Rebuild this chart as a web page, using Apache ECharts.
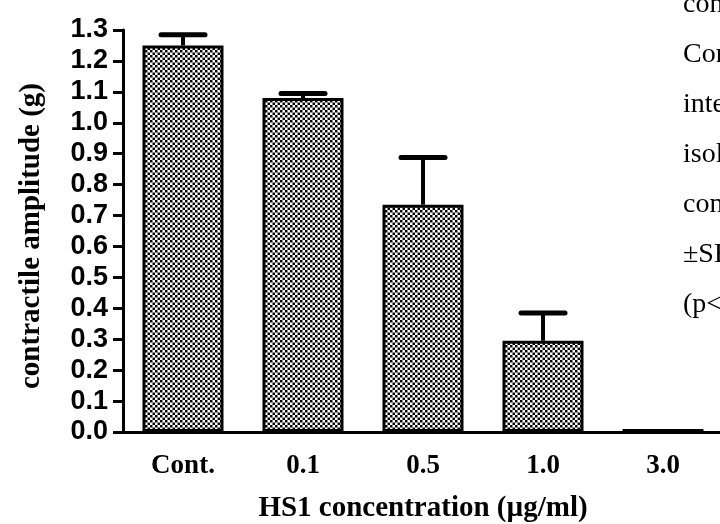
<!DOCTYPE html>
<html><head><meta charset="utf-8">
<script src="https://cdn.jsdelivr.net/npm/echarts@6/dist/echarts.min.js"></script>
<style>html,body{margin:0;padding:0;background:#fff}#c{width:720px;height:524px}</style>
</head><body><div id="c"></div>
<script>
// ---- data ----
const categories = ['Cont.', '0.1', '0.5', '1.0', '3.0'];
const meanValues = [1.25, 1.08, 0.735, 0.295, 0.01];
const semValues = [0.035, 0.015, 0.153, 0.09, 0];
const yMin = 0, yMax = 1.3, yStep = 0.1;
const xTitle = 'HS1 concentration (µg/ml)';
const yTitle = 'contractile amplitude (g)';
const sideText = ['con', 'Con', 'inte', 'isol', 'con', '±SE', '(p<'];

// ---- pattern ----
const tile = document.createElement('canvas');
tile.width = 5; tile.height = 5;
const tc = tile.getContext('2d');
tc.fillStyle = '#8c8c8c'; tc.fillRect(0, 0, 5, 5);
tc.fillStyle = '#000'; tc.fillRect(0, 0, 2, 2); tc.fillRect(3, 3, 2, 2);
tc.fillStyle = '#fff'; tc.fillRect(3, 0, 2, 2); tc.fillRect(0, 3, 2, 2);

const chart = echarts.init(document.getElementById('c'), null, {renderer: 'canvas'});
const serif = 'Liberation Serif';
const errData = categories.map((c, i) => [i, meanValues[i], semValues[i]]);

const graphics = sideText.map((t, i) => ({
  type: 'text', z: 10,
  style: {x: 683, y: 5 + i * 50, text: t, fill: '#000',
    font: '28px "Liberation Serif"', verticalAlign: 'middle', align: 'left'}
}));
graphics.push({
  type: 'text', z: 10, rotation: Math.PI / 2,
  style: {x: 0, y: 0, text: yTitle, fill: '#000',
    font: 'bold 29px "Liberation Serif"', align: 'center', verticalAlign: 'middle'},
  x: 32, y: 236
});

chart.setOption({
  animation: false,
  backgroundColor: '#fff',
  grid: {left: 123, top: 30, width: 600, height: 402, containLabel: false, outerBoundsMode: 'none'},
  xAxis: {
    type: 'category', data: categories,
    axisLine: {lineStyle: {color: '#000', width: 3}},
    axisTick: {alignWithLabel: true, length: 9, lineStyle: {color: '#000', width: 3}},
    axisLabel: {margin: 21, color: '#000', fontFamily: serif, fontWeight: 'bold', fontSize: 27},
    name: xTitle, nameLocation: 'middle', nameGap: 62,
    nameTextStyle: {color: '#000', fontFamily: serif, fontWeight: 'bold', fontSize: 29}
  },
  yAxis: {
    type: 'value', min: yMin, max: yMax, interval: yStep,
    splitLine: {show: false},
    axisLine: {show: true, lineStyle: {color: '#000', width: 3}},
    axisTick: {show: true, length: 10, lineStyle: {color: '#000', width: 3}},
    axisLabel: {margin: 15, color: '#000', fontFamily: 'Liberation Sans', fontWeight: 'bold', fontSize: 27,
      formatter: v => v.toFixed(1)}
  },
  series: [
    {
      type: 'bar', data: meanValues, barWidth: 81,
      itemStyle: {color: {image: tile, repeat: 'repeat'}, borderColor: '#000', borderWidth: 3}
    },
    {
      type: 'custom', data: errData, z: 5,
      renderItem: function (params, api) {
        const i = api.value(0), m = api.value(1), e = api.value(2);
        if (!(e > 0)) return null;
        const base = api.coord([i, m]);
        const top = api.coord([i, m + e]);
        const hw = 22;
        return {type: 'group', children: [
          {type: 'line', shape: {x1: base[0], y1: base[1], x2: top[0], y2: top[1]},
            style: {stroke: '#000', lineWidth: 4}},
          {type: 'line', shape: {x1: top[0] - hw, y1: top[1], x2: top[0] + hw, y2: top[1]},
            style: {stroke: '#000', lineWidth: 5, lineCap: 'round'}}
        ]};
      }
    }
  ],
  graphic: graphics
});
</script></body></html>
